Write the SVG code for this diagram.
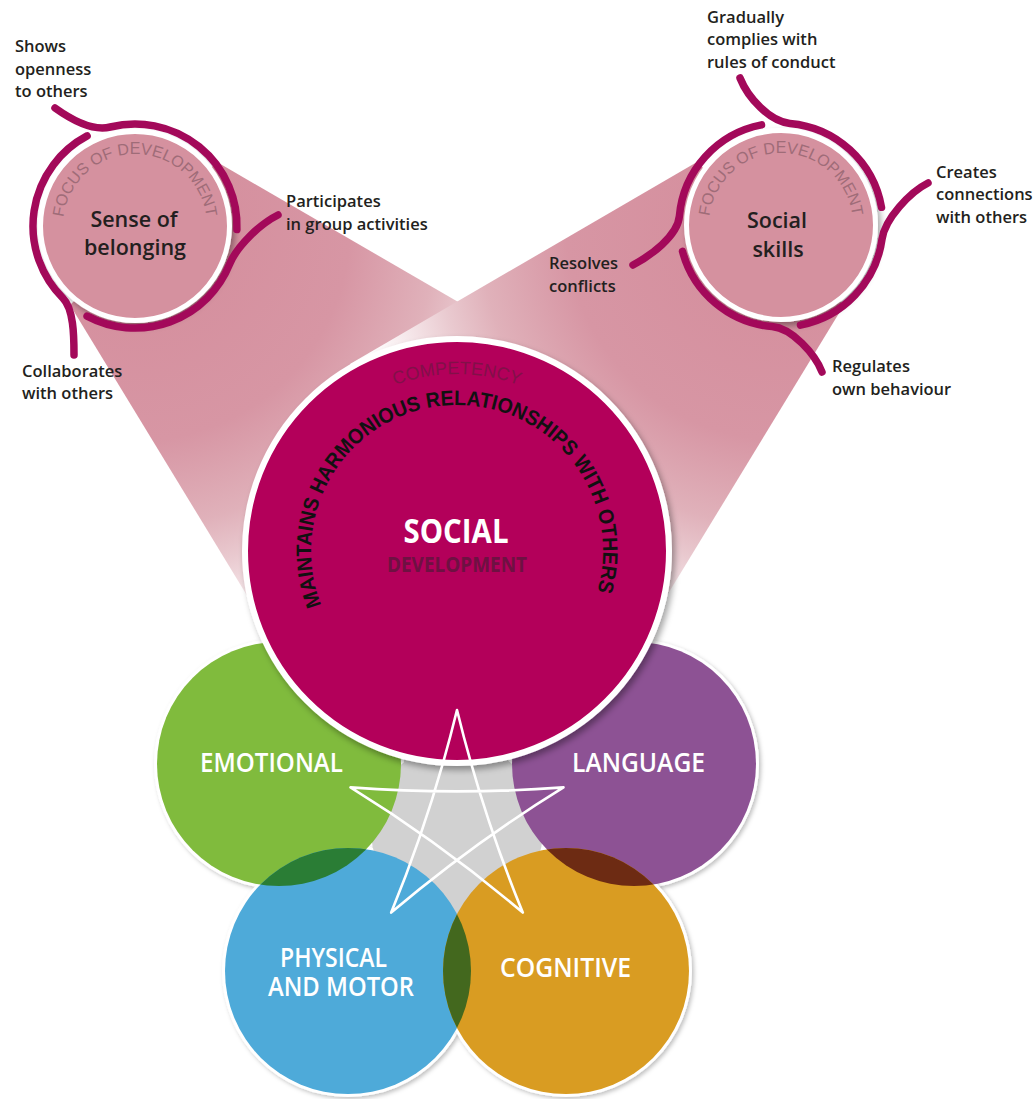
<svg xmlns="http://www.w3.org/2000/svg" width="1034" height="1099" viewBox="0 0 1034 1099">
<defs>
<style>
.lbl{font-family:'Open Sans','Liberation Sans',sans-serif;font-weight:600;font-size:16.5px;fill:#231f20}
.focus{font-family:'Open Sans','Liberation Sans',sans-serif;font-weight:600;font-size:21.5px;fill:#231f20;text-anchor:middle}
.arcT{font-family:'Liberation Sans',sans-serif;font-size:16px;fill:#9f6c78}
.dom{font-family:'Open Sans','Liberation Sans',sans-serif;font-weight:600;font-size:27px;fill:#ffffff}
.conn{fill:none;stroke:#a3095a;stroke-width:7.5;stroke-linecap:round}
.star{fill:none;stroke:#ffffff;stroke-width:2.6;stroke-linejoin:round}
</style>
<filter id="sh" x="-20%" y="-20%" width="140%" height="140%"><feDropShadow dx="3" dy="4" stdDeviation="3" flood-color="#000" flood-opacity="0.35"/></filter>
<filter id="sh2" x="-20%" y="-20%" width="140%" height="140%"><feDropShadow dx="2" dy="2" stdDeviation="2" flood-color="#000" flood-opacity="0.25"/></filter>
<radialGradient id="beamL" gradientUnits="userSpaceOnUse" cx="135" cy="226" r="430">
<stop offset="0" stop-color="#d48c9b"/><stop offset="0.5" stop-color="#d796a4"/><stop offset="0.7" stop-color="#e0b1ba"/><stop offset="0.8" stop-color="#e9c9cf"/><stop offset="0.9" stop-color="#f5e6e9"/><stop offset="1" stop-color="#ffffff"/>
</radialGradient>
<radialGradient id="beamR" gradientUnits="userSpaceOnUse" cx="781" cy="225" r="430">
<stop offset="0" stop-color="#d48c9b"/><stop offset="0.5" stop-color="#d796a4"/><stop offset="0.7" stop-color="#e0b1ba"/><stop offset="0.8" stop-color="#e9c9cf"/><stop offset="0.9" stop-color="#f5e6e9"/><stop offset="1" stop-color="#ffffff"/>
</radialGradient>
<clipPath id="clipGreen"><circle cx="279" cy="764" r="122"/></clipPath>
<clipPath id="clipOrange"><circle cx="566" cy="971" r="123"/></clipPath>
<path id="arcFocusL" d="M135,298 A72,72 0 1,1 135,154 A72,72 0 1,1 135,298"/>
<path id="arcFocusR" d="M781,297 A72,72 0 1,1 781,153 A72,72 0 1,1 781,297"/>
<path id="arcComp" d="M457,728 A177,177 0 1,1 457,374 A177,177 0 1,1 457,728"/>
<path id="arcMain" d="M457,697 A146,146 0 1,1 457,405 A146,146 0 1,1 457,697"/>
</defs>

<g id="beams">
<polygon points="70,305 217,162 565,364 457,551 262,620" fill="url(#beamL)"/>
<polygon points="844,305 697,162 350,364 457,551 652,620" fill="url(#beamR)"/>
</g>

<g id="node-sense-of-belonging">
<circle cx="135" cy="226" r="94.5" fill="#d5919f" stroke="#ffffff" stroke-width="5" filter="url(#sh)"/>
<text class="arcT"><textPath href="#arcFocusL" startOffset="50%" text-anchor="middle">FOCUS OF DEVELOPMENT</textPath></text>
<text class="focus" x="134" y="227">Sense of</text>
<text class="focus" x="135" y="255">belonging</text>
</g>

<g id="node-social-skills">
<circle cx="781" cy="225" r="94.5" fill="#d5919f" stroke="#ffffff" stroke-width="5" filter="url(#sh)"/>
<text class="arcT"><textPath href="#arcFocusR" startOffset="50%" text-anchor="middle">FOCUS OF DEVELOPMENT</textPath></text>
<text class="focus" x="777" y="228">Social</text>
<text class="focus" x="778" y="257">skills</text>
</g>

<g id="connectors">
<path class="conn" d="M55,108 C69,118 91,132 110.3,127 A102,102 0 0,1 236.9,229.6"/>
<path class="conn" d="M87.1,135.9 A102,102 0 0,0 62.9,298.1 C73.5,308.7 74,335 74,355"/>
<path class="conn" d="M87.1,316.1 A102,102 0 0,0 229.6,264.2 C237.1,245.7 260,224 278,215"/>
<path class="conn" d="M740,78 C748,98 770,121.7 789.9,123.4 A102,102 0 0,1 881.5,207.3"/>
<path class="conn" d="M761.5,124.9 A102,102 0 0,0 679.4,216.1 C677.7,236 650,256 633,265"/>
<path class="conn" d="M928,183 C910,192 884.8,219 882,239.2 A102,102 0 0,1 800.5,325.1"/>
<path class="conn" d="M682.5,251.4 A102,102 0 0,0 772.1,326.6 C792,328.3 815,354 822,372"/>
</g>

<g id="labels">
<g id="label-shows-openness"><text class="lbl" x="15" y="52">Shows</text><text class="lbl" x="15" y="75">openness</text><text class="lbl" x="15" y="97">to others</text></g>
<g id="label-participates"><text class="lbl" x="286" y="207">Participates</text><text class="lbl" x="286" y="230">in group activities</text></g>
<g id="label-collaborates"><text class="lbl" x="22" y="377">Collaborates</text><text class="lbl" x="22" y="399">with others</text></g>
<g id="label-gradually"><text class="lbl" x="707" y="23">Gradually</text><text class="lbl" x="707" y="45">complies with</text><text class="lbl" x="707" y="68">rules of conduct</text></g>
<g id="label-creates"><text class="lbl" x="936" y="178">Creates</text><text class="lbl" x="936" y="200">connections</text><text class="lbl" x="936" y="223">with others</text></g>
<g id="label-resolves"><text class="lbl" x="549" y="269">Resolves</text><text class="lbl" x="549" y="292">conflicts</text></g>
<g id="label-regulates"><text class="lbl" x="832" y="372">Regulates</text><text class="lbl" x="832" y="395">own behaviour</text></g>
</g>

<g id="domain-base">
<circle cx="279" cy="764" r="125" fill="#ffffff" filter="url(#sh2)"/>
<circle cx="634" cy="764" r="125" fill="#ffffff" filter="url(#sh2)"/>
<circle cx="348" cy="971" r="126" fill="#ffffff" filter="url(#sh2)"/>
<circle cx="566" cy="971" r="126" fill="#ffffff" filter="url(#sh2)"/>
<circle cx="457" cy="830" r="86" fill="#d1d1d1"/>
</g>

<g id="node-emotional">
<circle cx="279" cy="764" r="122" fill="#80bb3d"/>
<text class="dom" x="200" y="772" textLength="143" lengthAdjust="spacingAndGlyphs">EMOTIONAL</text>
</g>
<g id="node-language">
<circle cx="634" cy="764" r="122" fill="#8d5294"/>
<text class="dom" x="572" y="772" textLength="133" lengthAdjust="spacingAndGlyphs">LANGUAGE</text>
</g>
<g id="node-physical-motor">
<circle cx="348" cy="971" r="123" fill="#4eaad9"/>
<text class="dom" x="280" y="967" textLength="107" lengthAdjust="spacingAndGlyphs">PHYSICAL</text>
<text class="dom" x="268" y="996" textLength="146" lengthAdjust="spacingAndGlyphs">AND MOTOR</text>
</g>
<g id="node-cognitive">
<circle cx="566" cy="971" r="123" fill="#d99c22"/>
<text class="dom" x="500" y="977" textLength="131" lengthAdjust="spacingAndGlyphs">COGNITIVE</text>
</g>

<g id="overlaps">
<circle cx="348" cy="971" r="123" fill="#2a7d35" clip-path="url(#clipGreen)"/>
<circle cx="348" cy="971" r="123" fill="#43681e" clip-path="url(#clipOrange)"/>
<circle cx="634" cy="764" r="122" fill="#6d2b13" clip-path="url(#clipOrange)"/>
</g>

<g id="node-social">
<circle cx="457" cy="551" r="212" fill="#b3005a" stroke="#ffffff" stroke-width="6" filter="url(#sh)"/>
<text font-family="'Liberation Sans',sans-serif" font-size="18" fill="#821049"><textPath href="#arcComp" startOffset="50%" text-anchor="middle">COMPETENCY</textPath></text>
<text font-family="'Liberation Sans',sans-serif" font-size="21" font-weight="bold" fill="#111111"><textPath href="#arcMain" startOffset="49.2%" text-anchor="middle" textLength="555" lengthAdjust="spacingAndGlyphs">MAINTAINS HARMONIOUS RELATIONSHIPS WITH OTHERS</textPath></text>
<text x="456" y="543" font-family="'Open Sans','Liberation Sans',sans-serif" font-weight="700" font-size="34" fill="#ffffff" text-anchor="middle" textLength="105" lengthAdjust="spacingAndGlyphs">SOCIAL</text>
<text x="457" y="572" font-family="'Open Sans','Liberation Sans',sans-serif" font-weight="700" font-size="22" fill="#6e1142" text-anchor="middle" textLength="140" lengthAdjust="spacingAndGlyphs">DEVELOPMENT</text>
</g>

<g id="star">
<path class="star" d="M457,710 Q482.3,813.8 522.8,912.6 Q441.4,843.5 350.5,787.4 Q457,795.4 563.5,787.4 Q472.6,843.5 391.2,912.6 Q431.7,813.8 457,710 Z"/>
</g>
</svg>
